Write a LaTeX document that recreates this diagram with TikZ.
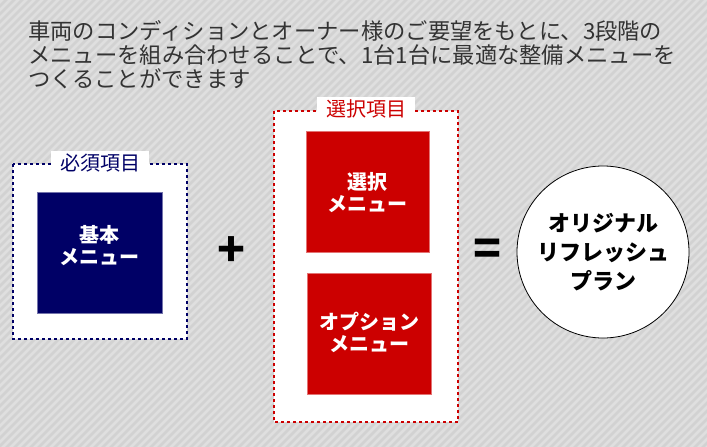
\documentclass[tikz,border=0pt]{standalone}
\usepackage{fontspec}
\setmainfont{Noto Sans CJK JP}
\definecolor{navy}{HTML}{000066}
\definecolor{rred}{HTML}{CC0000}
\definecolor{bgA}{HTML}{D2D2D2}
\definecolor{bgB}{HTML}{DFDFDF}
\definecolor{txt}{HTML}{333333}
\tikzset{
  para/.style={anchor=base west, inner sep=0pt, text=txt, font=\fontsize{22.3}{24}\selectfont},
  dotbox/.style={line width=2.8pt, dash pattern=on 2.8pt off 3.2pt},
  boxlabel/.style={fill=white, inner xsep=9pt, inner ysep=3pt, font=\fontsize{20}{22}\selectfont},
  menubox/.style={text=white, align=center, inner sep=0pt, font=\bfseries\fontsize{20}{22}\selectfont},
  opsign/.style={inner sep=0pt, font=\bfseries\fontsize{46}{46}\selectfont},
  plan/.style={circle, draw=black, line width=0.8pt, fill=white, minimum size=172pt, align=center, inner sep=0pt, font=\bfseries\fontsize{22}{29}\selectfont}
}
\begin{document}
\begin{tikzpicture}[x=1pt,y=-1pt]
\useasboundingbox (0,0) rectangle (707,447);
\fill[bgA] (0,0) rectangle (707,447);
\begin{scope}
\clip (0,0) rectangle (707,447);
\foreach \a in {-456,-448,...,712}
  \draw[bgB, line width=2.6pt] (\a,450) -- (\a+452,-2);
\end{scope}

% intro text
\node[para] (t1) at (28,39) {車両のコンディションとオーナー様のご要望をもとに、3段階の};
\node[para] (t2) at (28,63) {メニューを組み合わせることで、1台1台に最適な整備メニューを};
\node[para] (t3) at (28,87) {つくることができます};

% required box
\fill[white] (13,164) rectangle (187,339);
\draw[navy, dotbox] (13,164) rectangle (187,339);
\node[boxlabel, text=navy] (reqlabel) at (100,163) {必須項目};
\fill[navy] (37,192) rectangle (162,313);
\draw[navy!55!white, line width=0.8pt] (37,192) rectangle (162,313);
\node[menubox] (basic) at (99.5,246) {基本\\メニュー};

% plus
\node[opsign] (plus) at (232,252) {+};

% selectable box
\fill[white] (274,111) rectangle (458,422);
\draw[rred, dotbox] (274,111) rectangle (458,422);
\node[boxlabel, text=rred] (sellabel) at (366,109) {選択項目};
\fill[rred] (306,131) rectangle (429,252);
\draw[rred!55!white, line width=0.8pt] (306,131) rectangle (429,252);
\node[menubox] (sel) at (367.5,193) {選択\\メニュー};
\fill[rred] (307,273) rectangle (431,394);
\draw[rred!55!white, line width=0.8pt] (307,273) rectangle (431,394);
\node[menubox] (opt) at (369,332) {オプション\\メニュー};

% equals
\node[opsign] (eq) at (488,252) {=};

% result
\node[plan] (res) at (603,252) {オリジナル\\リフレッシュ\\プラン};
\end{tikzpicture}
\end{document}
